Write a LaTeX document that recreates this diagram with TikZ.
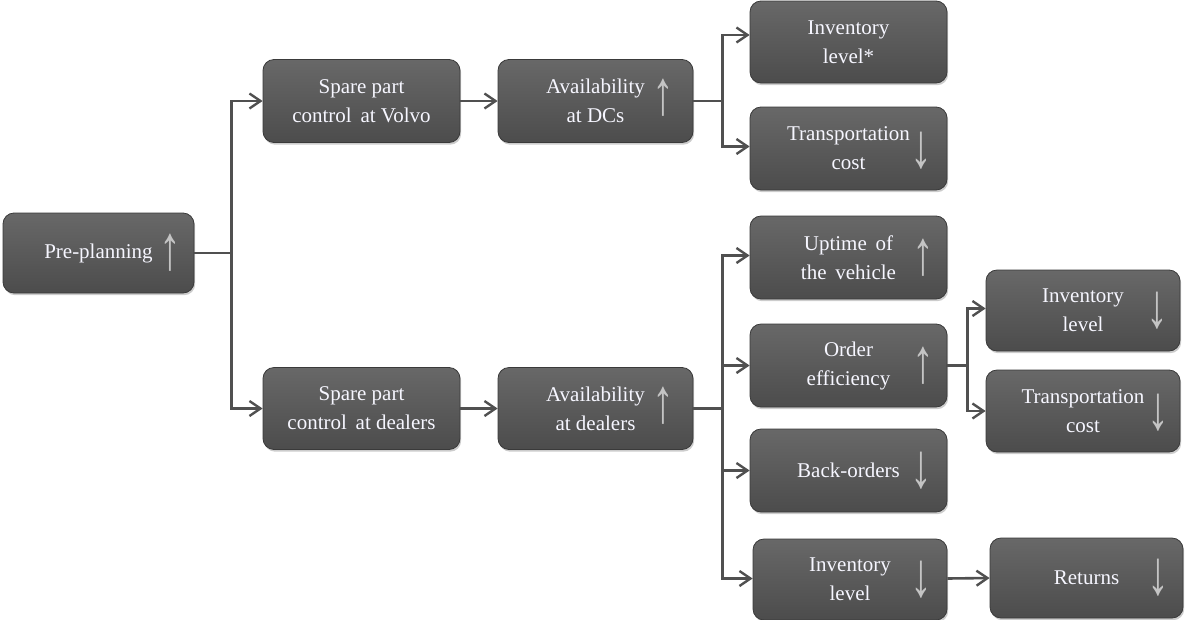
\documentclass[tikz,border=0pt]{standalone}
\usepackage{fontspec}
\setmainfont{Liberation Serif}
\newfontfamily\boxfont{Liberation Serif}
\usetikzlibrary{arrows.meta,shadows,calc}
\definecolor{boxtop}{RGB}{104,104,104}
\definecolor{boxmid}{RGB}{90,90,90}
\definecolor{boxbot}{RGB}{76,76,76}
\definecolor{boxedge}{RGB}{58,58,58}
\definecolor{txt}{RGB}{246,246,255}
\definecolor{symb}{RGB}{196,196,196}
\definecolor{conn}{RGB}{80,80,80}
\tikzset{
  box/.style={rectangle, rounded corners=11pt, draw=boxedge, line width=0.8pt,
    top color=boxtop, bottom color=boxbot, middle color=boxmid,
    drop shadow={shadow xshift=1.2pt, shadow yshift=-2.2pt, opacity=0.4},
    text=txt, align=center, inner sep=0pt,
    font=\boxfont\fontsize{21}{29}\selectfont},
  trend/.style={text=symb, inner sep=0pt, font=\boxfont\fontsize{30}{30}\selectfont},
  link/.style={draw=conn, line width=2.6pt, -{Straight Barb[length=11pt,width=15pt,line width=2.4pt]}},
  plain/.style={draw=conn, line width=2.6pt}
}
\newcommand{\up}{\scalebox{1.45}[2.1]{↑}}
\newcommand{\dn}{\scalebox{1.45}[2.1]{↓}}
\begin{document}
\begin{tikzpicture}[x=1pt,y=-1pt]
\useasboundingbox (0,0) rectangle (1186,619);
% boxes
\node[box, minimum width=191pt, minimum height=80pt] (pre) at (98.5,253) {Pre-planning};
\node[box, minimum width=197pt, minimum height=83pt] (volvo) at (361.5,101) {Spare part\\control\, at Volvo};
\node[box, minimum width=195pt, minimum height=83pt] (dcs) at (595.5,101) {Availability\\at DCs};
\node[box, minimum width=197pt, minimum height=82pt] (inva) at (848.5,42) {Inventory\\level*};
\node[box, minimum width=197pt, minimum height=83pt] (tra) at (848.5,148.5) {Transportation\\cost};
\node[box, minimum width=197pt, minimum height=82pt] (dealers) at (361.5,408.5) {Spare part\\control\, at dealers};
\node[box, minimum width=195pt, minimum height=82pt] (avd) at (595.5,408.5) {Availability\\at dealers};
\node[box, minimum width=197pt, minimum height=83pt] (upt) at (848.5,257.5) {Uptime\, of\\the\, vehicle};
\node[box, minimum width=197pt, minimum height=83pt] (ord) at (848.5,365.5) {Order\\efficiency};
\node[box, minimum width=197pt, minimum height=83pt] (bo) at (848.5,470.5) {Back-orders};
\node[box, minimum width=194pt, minimum height=81pt] (invc) at (850,579.5) {Inventory\\level};
\node[box, minimum width=194pt, minimum height=81pt] (invb) at (1083,310.5) {Inventory\\level};
\node[box, minimum width=194pt, minimum height=82pt] (trb) at (1083,411) {Transportation\\cost};
\node[box, minimum width=193pt, minimum height=80pt] (ret) at (1086.5,578) {Returns};
% trend arrows
\node[trend] (tpre) at ([xshift=-24pt]pre.east) {\up};
\node[trend] (tdcs) at ([xshift=-30pt,yshift=3pt]dcs.east) {\up};
\node[trend] (ttra) at ([xshift=-26pt,yshift=-2pt]tra.east) {\dn};
\node[trend] (tavd) at ([xshift=-30pt,yshift=3pt]avd.east) {\up};
\node[trend] (tupt) at ([xshift=-24pt]upt.east) {\up};
\node[trend] (tord) at ([xshift=-24pt]ord.east) {\up};
\node[trend] (tbo) at ([xshift=-26pt]bo.east) {\dn};
\node[trend] (tinvc) at ([xshift=-26pt]invc.east) {\dn};
\node[trend] (tinvb) at ([xshift=-23pt]invb.east) {\dn};
\node[trend] (ttrb) at ([xshift=-22pt,yshift=-2pt]trb.east) {\dn};
\node[trend] (tret) at ([xshift=-25pt]ret.east) {\dn};
% connectors
\coordinate (j1) at ($(pre.east)+(37,0)$);
\draw[plain] (pre.east) -- (j1);
\draw[link] (j1) |- (volvo.west);
\draw[link] (j1) |- (dealers.west);
\draw[link] (volvo.east) -- (dcs.west);
\draw[link] (dealers.east) -- (avd.west);
\coordinate (j2) at ($(dcs.east)+(29,0)$);
\draw[plain] (dcs.east) -- (j2);
\draw[link] (j2) |- ([yshift=7pt]inva.west);
\draw[link] (j2) |- ([yshift=2pt]tra.west);
\coordinate (j3) at ($(avd.east)+(29,0)$);
\draw[plain] (avd.east) -- (j3);
\draw[link] (j3) |- ([yshift=2pt]upt.west);
\draw[link] (j3) |- (ord.west);
\draw[link] (j3) |- (bo.west);
\draw[link] (j3) |- ([yshift=1pt]invc.west);
\coordinate (j4) at ($(ord.east)+(20,0)$);
\draw[plain] (ord.east) -- (j4);
\draw[link] (j4) |- ([yshift=2pt]invb.west);
\draw[link] (j4) |- (trb.west);
\draw[link] ([yshift=1pt]invc.east) -- ([yshift=0pt]ret.west);
\end{tikzpicture}
\end{document}
